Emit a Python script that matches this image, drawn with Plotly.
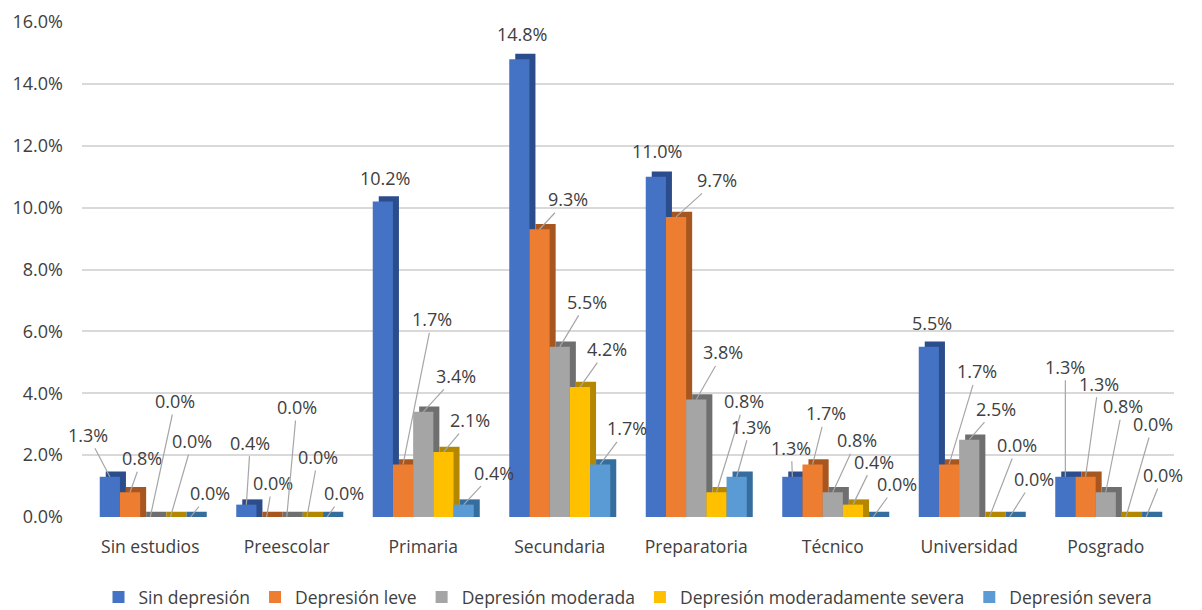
import plotly.graph_objects as go

# ---------------- data ----------------
categories = ["Sin estudios", "Preescolar", "Primaria", "Secundaria",
              "Preparatoria", "Técnico", "Universidad", "Posgrado"]
series_names = ["Sin depresión", "Depresión leve", "Depresión moderada",
                "Depresión moderadamente severa", "Depresión severa"]
sin_depresion = [1.3, 0.4, 10.2, 14.8, 11.0, 1.3, 5.5, 1.3]
depresion_leve = [0.8, 0.0, 1.7, 9.3, 9.7, 1.7, 1.7, 1.3]
depresion_moderada = [0.0, 0.0, 3.4, 5.5, 3.8, 0.8, 2.5, 0.8]
depresion_mod_severa = [0.0, 0.0, 2.1, 4.2, 0.8, 0.4, 0.0, 0.0]
depresion_severa = [0.0, 0.0, 0.4, 1.7, 1.3, 0.0, 0.0, 0.0]
y_ticks = [0, 2, 4, 6, 8, 10, 12, 14, 16]

series_values = [sin_depresion, depresion_leve, depresion_moderada,
                 depresion_mod_severa, depresion_severa]

# ---------------- styles ----------------
front_colors = ["#4472C4", "#ED7D31", "#A5A5A5", "#FFC000", "#5B9BD5"]
side_colors = ["#2B4D8C", "#A8561F", "#6F6F6F", "#B38700", "#356E9E"]
BAR_W = 0.148
DX = 0.044   # depth shift (x units)
DY = 0.17    # depth shift (y units)

# label offsets (pixels) per category / series
label_offsets = [
    [(-22, -42), (12, -34), (25, -116), (22, -76), (19, -24)],
    [(4, -62), (6, -34), (10, -110), (11, -60), (17, -24)],
    [(2, -23), (29, -145), (33, -36), (27, -32), (30, -32)],
    [(3, -25), (28, -30), (27, -45), (27, -38), (27, -36)],
    [(1, -26), (41, -37), (27, -47), (28, -91), (14, -50)],
    [(-1, -29), (13, -51), (24, -52), (21, -43), (24, -33)],
    [(3, -24), (28, -93), (27, -31), (28, -72), (24, -38)],
    [(0, -110), (13, -93), (17, -86), (27, -93), (17, -42)],
]

FONT = "'Open Sans', 'Noto Sans', sans-serif"
FS_NUM = 18
FS_TXT = 17.5
TXT = "#404040"

fig = go.Figure()
xs = list(range(len(categories)))
annotations = []
for k, (name, vals) in enumerate(zip(series_names, series_values)):
    off = (k - 2.5) * BAR_W
    # depth (side/top) face
    fig.add_trace(go.Bar(
        x=xs, y=[v + DY for v in vals], base=[0] * len(vals),
        offset=off + DX, width=BAR_W,
        marker=dict(color=side_colors[k], line=dict(width=0)),
        showlegend=False, hoverinfo="skip"))
    # front face
    fig.add_trace(go.Bar(
        x=xs, y=vals, offset=off, width=BAR_W, name=name,
        marker=dict(color=front_colors[k], line=dict(width=0))))
    for i, v in enumerate(vals):
        ax, ay = label_offsets[i][k]
        hide = (ax * ax + ay * ay) ** 0.5 < 27
        annotations.append(dict(
            x=i + off + BAR_W / 2, y=v, xref="x", yref="y",
            text=f"{v:.1f}%", showarrow=True, ax=ax, ay=ay,
            arrowhead=0, arrowwidth=1.2,
            arrowcolor="rgba(0,0,0,0)" if hide else "#A6A6A6",
            font=dict(family=FONT, size=FS_NUM, color=TXT)))

fig.update_layout(
    width=1202, height=610,
    margin=dict(l=74, r=36, t=14, b=101),
    paper_bgcolor="white", plot_bgcolor="white",
    barmode="overlay",
    annotations=annotations,
    font=dict(family=FONT, size=FS_TXT, color=TXT),
    legend=dict(orientation="h", x=0.5, xanchor="center",
                yref="container", y=21 / 610, yanchor="middle",
                font=dict(family=FONT, size=FS_TXT, color=TXT),
                itemwidth=30, traceorder="normal"),
    xaxis=dict(range=[-0.5, 7.5], tickvals=xs, ticktext=categories,
               showgrid=False, zeroline=False, showline=False,
               ticks="", ticklabelstandoff=17, automargin=False,
               tickfont=dict(family=FONT, size=FS_TXT, color=TXT)),
    yaxis=dict(range=[0, 16], tickvals=y_ticks,
               ticktext=[f"{t:.1f}%" for t in y_ticks],
               showgrid=True, gridcolor="#D9D9D9", gridwidth=2,
               zeroline=False, showline=False, ticks="",
               ticklabelstandoff=18, automargin=False,
               tickfont=dict(family=FONT, size=FS_NUM, color=TXT)),
    showlegend=True,
)

fig.write_html("out.html")
